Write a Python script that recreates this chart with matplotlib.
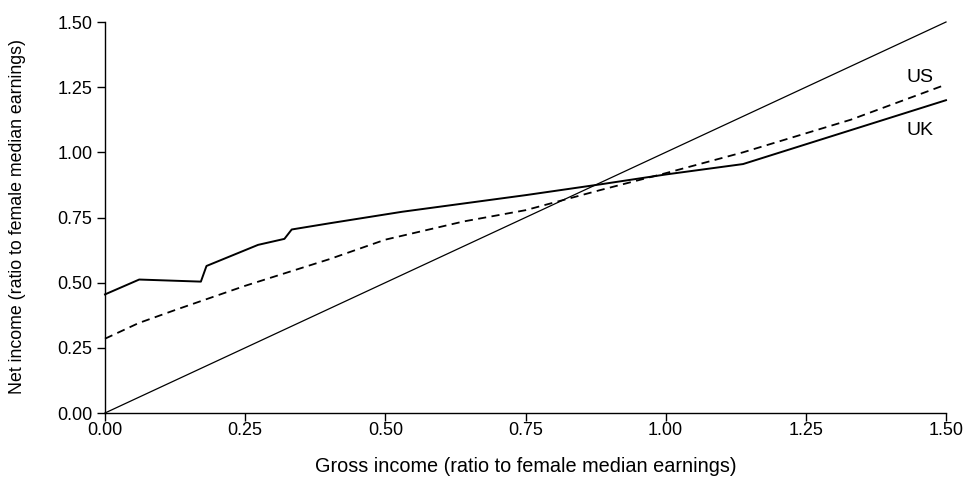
import matplotlib
matplotlib.use("Agg")
import matplotlib.pyplot as plt
import numpy as np

plt.rcParams['font.family'] = ['Liberation Sans', 'DejaVu Sans']

# gross income -> net income, ratio to female median earnings
uk_gross = [0.0, 0.061, 0.171, 0.181, 0.273, 0.32, 0.333, 0.401, 0.53,
            0.751, 0.883, 1.0, 1.138, 1.5]
uk_net = [0.455, 0.512, 0.504, 0.564, 0.645, 0.668, 0.704, 0.728, 0.772,
          0.836, 0.877, 0.915, 0.955, 1.20]

us_gross = [0.0, 0.06, 0.125, 0.25, 0.4, 0.5, 0.64, 0.75, 0.883, 1.0,
            1.138, 1.33, 1.5]
us_net = [0.285, 0.345, 0.395, 0.488, 0.59, 0.665, 0.735, 0.778, 0.855,
          0.92, 1.0, 1.125, 1.26]

diag = [0.0, 1.5]
ticks = [0.0, 0.25, 0.5, 0.75, 1.0, 1.25, 1.5]
tick_labels = ["0.00", "0.25", "0.50", "0.75", "1.00", "1.25", "1.50"]

fig = plt.figure(figsize=(9.69, 4.84), dpi=100)
ax = fig.add_axes([105 / 969, 71 / 484, 841 / 969, 391 / 484])

ax.plot(diag, diag, color='black', lw=0.9, clip_on=False)
ax.plot(us_gross, us_net, color='black', lw=1.3, ls=(0, (4.5, 3)),
        clip_on=False)
ax.plot(uk_gross, uk_net, color='black', lw=1.4, clip_on=False)

ax.text(1.453, 1.289, "US", fontsize=14, ha='center', va='center')
ax.text(1.453, 1.085, "UK", fontsize=14, ha='center', va='center')

ax.set_xlim(0, 1.5)
ax.set_ylim(0, 1.5)
ax.set_xticks(ticks)
ax.set_xticklabels(tick_labels)
ax.set_yticks(ticks)
ax.set_yticklabels(tick_labels)
ax.tick_params(direction='out', length=6, width=1, labelsize=13)
ax.tick_params(axis='x', pad=0.5)
ax.tick_params(axis='y', pad=3)

for s in ['top', 'right']:
    ax.spines[s].set_visible(False)
for s in ['left', 'bottom']:
    ax.spines[s].set_linewidth(1)

fig.text(526 / 969, 1 - 467 / 484,
         "Gross income (ratio to female median earnings)",
         fontsize=14.3, ha='center', va='center')
fig.text(18 / 969, 1 - 216 / 484,
         "Net income (ratio to female median earnings)",
         fontsize=12.8, ha='center', va='center', rotation=90)

fig.savefig("out.png", dpi=100, facecolor='white')
